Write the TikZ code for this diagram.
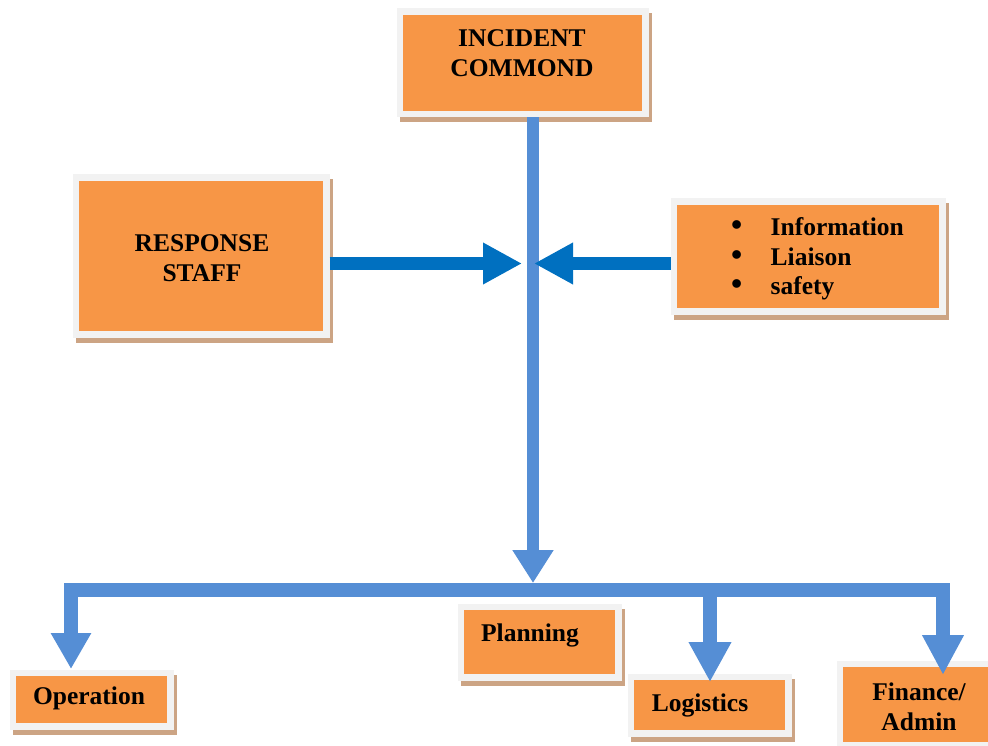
\documentclass[tikz,border=0pt]{standalone}
\usepackage{fontspec}
\setmainfont{Liberation Serif}
\usetikzlibrary{arrows.meta,shadows}

\definecolor{orng}{HTML}{F79646}
\definecolor{framec}{HTML}{F2F2F2}
\definecolor{shadc}{RGB}{204,164,132}
\definecolor{lightblue}{HTML}{558ED5}
\definecolor{darkblue}{HTML}{0070C0}

\tikzset{
  orgbox/.style={rectangle, fill=orng, draw=framec, line width=6.5pt, inner sep=0pt,
    drop shadow={shadow xshift=3pt, shadow yshift=-5pt, fill=shadc, draw=shadc,
      line width=6.5pt, opacity=1}},
  lbl/.style={font=\bfseries\fontsize{25.5}{29.5}\selectfont, align=center, inner sep=0pt},
  mainline/.style={draw=lightblue, line width=12.5pt},
  barline/.style={draw=lightblue, line width=13.5pt, line join=miter},
  sidearrow/.style={draw=darkblue, line width=13pt,
    -{Triangle[length=39pt,width=39pt]}},
}
\newcommand{\bulletitem}{\makebox[39.5pt][l]{\scalebox{1.25}{\textbullet}}}

\begin{document}
\begin{tikzpicture}[x=1pt,y=-1pt]
\useasboundingbox (0,0) rectangle (988,746);

% boxes
\node[orgbox, minimum width=245.5pt, minimum height=102.5pt] (cmd)  at (522.5,63) {};
\node[orgbox, minimum width=250.5pt, minimum height=156.5pt] (resp) at (201,256) {};
\node[orgbox, minimum width=268.5pt, minimum height=109.5pt] (info) at (808,256.5) {};
\node[orgbox, minimum width=157.5pt, minimum height=53.5pt]  (op)   at (91.5,699.5) {};
\node[orgbox, minimum width=157.5pt, minimum height=70.5pt]  (plan) at (539.5,642) {};
\node[orgbox, minimum width=157.5pt, minimum height=56.5pt]  (log)  at (709.5,705) {};
\node[orgbox, minimum width=206.5pt, minimum height=81.5pt]  (fin)  at (943,704.5) {};

% box texts
\node[lbl] (cmdT)  at (522,53)  {INCIDENT\\COMMOND};
\node[lbl] (respT) at (202,258) {RESPONSE\\STAFF};
\node[lbl, align=left, anchor=west] (infoT) at (731,259)
  {\bulletitem Information\\
   \bulletitem Liaison\\
   \bulletitem safety};
\node[lbl] (opT)   at (89,698)  {Operation};
\node[lbl] (planT) at (530,635) {Planning};
\node[lbl] (logT)  at (700,705) {Logistics};
\node[lbl] (finT)  at (919,707) {Finance/\\Admin};

% junction points
\coordinate (hub)    at (533,590);
\coordinate (barL)   at (71,590);
\coordinate (barR)   at (943,590);
\coordinate (barLog) at (710,590);
\coordinate (opTip)  at (71,669);
\coordinate (logTip) at (710,682);
\coordinate (finTip) at (943,675);
\coordinate (lTip)   at (522,263.5);
\coordinate (rTip)   at (534,263.5);

% main vertical line
\draw[mainline, -{Triangle[length=33pt,width=39pt]}]
  (cmd.south -| hub) -- ([yshift=7pt]hub);

% side arrows
\draw[sidearrow] (resp.east |- lTip) -- (lTip);
\draw[sidearrow] (info.west |- rTip) -- (rTip);

% distribution bar
\draw[barline, {Triangle[length=36pt,width=38pt]}-{Triangle[length=40pt,width=39pt]}]
  (opTip) -- (barL) -- (barR) -- (finTip);
\draw[barline, -{Triangle[length=40pt,width=40pt]}] (barLog) -- (logTip);
\end{tikzpicture}
\end{document}
